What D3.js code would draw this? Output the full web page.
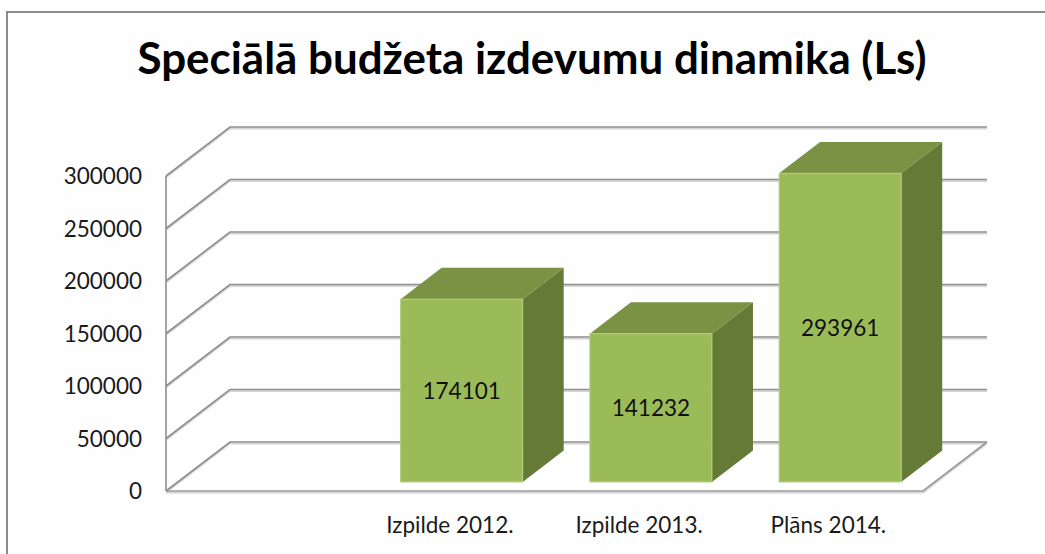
<html>
  <head>
    <meta charset="utf-8" />
    <script src="https://cdn.jsdelivr.net/npm/d3@7"></script>
    <style>
      body {
        margin: 0;
        background: #ffffff;
      }
      text {
        font-family: Lato, "Open Sans", sans-serif;
      }
    </style>
  </head>
  <body>
    <div id="container"></div>
    <script>
      // chart data
      const title = "Speciālā budžeta izdevumu dinamika (Ls)";
      const categories = ["", "Izpilde 2012.", "Izpilde 2013.", "Plāns 2014."];
      const values = [null, 174101, 141232, 293961];
      const ticks = [0, 50000, 100000, 150000, 200000, 250000, 300000];

      const w = 1045;
      const h = 554;

      // depth of the 3d box (floor back edge offset)
      const depthX = 64;
      const depthY = -49;
      const barFront = 0.184;
      const barBack = 0.825;

      const svg = d3
        .select("#container")
        .append("svg")
        .attr("width", w)
        .attr("height", h);

      // outer border
      svg
        .append("rect")
        .attr("x", 7)
        .attr("y", 12)
        .attr("width", w + 20)
        .attr("height", h + 20)
        .attr("fill", "#fefefe")
        .attr("stroke", "#8c8c8c")
        .attr("stroke-width", 2);

      svg
        .append("text")
        .attr("x", 532)
        .attr("y", 74)
        .attr("text-anchor", "middle")
        .attr("font-size", 44)
        .attr("font-weight", "bold")
        .attr("textLength", 789)
        .attr("lengthAdjust", "spacingAndGlyphs")
        .attr("fill", "#000")
        .text(title);

      const x = d3.scaleBand().domain(categories).range([166, 923]).padding(0);
      const y = d3.scaleLinear().domain([0, 300000]).range([491, 176]);

      const px = (xv, t) => xv + depthX * t;
      const py = (yv, t) => yv + depthY * t;

      // floor
      const x0 = x.range()[0];
      const x1 = x.range()[1];
      svg
        .append("polygon")
        .attr(
          "points",
          [
            [x0, y(0)],
            [x1, y(0)],
            [px(x1, 1), py(y(0), 1)],
            [px(x0, 1), py(y(0), 1)],
          ]
            .map((p) => p.join(","))
            .join(" ")
        )
        .attr("fill", "#ffffff");

      // gridlines: shadow + line on back wall and side wall
      const grid = svg.append("g");
      ticks.forEach((t) => {
        const yf = y(t);
        const yb = py(yf, 1);
        [
          ["#d4d4d4", 1.6],
          ["#8e8e8e", 0],
        ].forEach(([c, off]) => {
          grid
            .append("path")
            .attr(
              "d",
              `M${x0},${yf + off}L${px(x0, 1)},${yb + off}L${px(x1, 1)},${yb + off}`
            )
            .attr("fill", "none")
            .attr("stroke", c)
            .attr("stroke-width", 1.6);
        });
      });

      // side wall front edge
      svg
        .append("line")
        .attr("x1", x0)
        .attr("x2", x0)
        .attr("y1", y(300000))
        .attr("y2", y(0))
        .attr("stroke", "#8e8e8e")
        .attr("stroke-width", 1.6);

      // floor front and right edges
      [
        ["#d4d4d4", 1.6],
        ["#9a9a9a", 0],
      ].forEach(([c, off]) => {
        svg
          .append("path")
          .attr(
            "d",
            `M${x0},${y(0) + off}L${x1},${y(0) + off}L${px(x1, 1)},${py(y(0), 1) + off}`
          )
          .attr("fill", "none")
          .attr("stroke", c)
          .attr("stroke-width", 1.6);
      });

      // tick labels
      svg
        .selectAll(".tick-label")
        .data(ticks)
        .enter()
        .append("text")
        .attr("class", "tick-label")
        .attr("x", 142)
        .attr("y", (d) => y(d) + 8)
        .attr("text-anchor", "end")
        .attr("font-size", 22.5)
        .attr("fill", "#1a1a1a")
        .text((d) => d);

      // bars
      const barW = x.bandwidth() * 0.645;
      const bars = categories
        .map((c, i) => ({ name: c, value: values[i] }))
        .filter((d) => d.value != null);

      const bar = svg.selectAll(".bar").data(bars).enter().append("g");

      const cx = (d) => x(d.name) + x.bandwidth() / 2 - barW / 2;

      const poly = (pts) => pts.map((p) => p.join(",")).join(" ");

      // right side face
      bar
        .append("polygon")
        .attr("points", (d) => {
          const l = cx(d) + barW;
          return poly([
            [px(l, barFront), py(y(0), barFront)],
            [px(l, barBack), py(y(0), barBack)],
            [px(l, barBack), py(y(d.value), barBack)],
            [px(l, barFront), py(y(d.value), barFront)],
          ]);
        })
        .attr("fill", "#647a36");

      // top face
      bar
        .append("polygon")
        .attr("points", (d) => {
          const l = cx(d);
          const yt = y(d.value);
          return poly([
            [px(l, barFront), py(yt, barFront)],
            [px(l + barW, barFront), py(yt, barFront)],
            [px(l + barW, barBack), py(yt, barBack)],
            [px(l, barBack), py(yt, barBack)],
          ]);
        })
        .attr("fill", "#7a9244");

      // front face
      bar
        .append("rect")
        .attr("x", (d) => px(cx(d), barFront))
        .attr("y", (d) => py(y(d.value), barFront))
        .attr("width", barW)
        .attr("height", (d) => y(0) - y(d.value))
        .attr("fill", "#9bbb59")
        .attr("stroke", "#b4cf83")
        .attr("stroke-width", 1);

      // value labels
      bar
        .append("text")
        .attr("x", (d) => px(cx(d), barFront) + barW / 2)
        .attr("y", (d) => py((y(0) + y(d.value)) / 2, barFront) + 8)
        .attr("text-anchor", "middle")
        .attr("font-size", 22.5)
        .attr("fill", "#111")
        .text((d) => d.value);

      // category labels
      svg
        .selectAll(".cat-label")
        .data(categories.filter((c) => c !== ""))
        .enter()
        .append("text")
        .attr("class", "cat-label")
        .attr("x", (d) => x(d) + x.bandwidth() / 2)
        .attr("y", 533)
        .attr("text-anchor", "middle")
        .attr("font-size", 22.5)
        .attr("fill", "#1a1a1a")
        .text((d) => d);
    </script>
  </body>
</html>
